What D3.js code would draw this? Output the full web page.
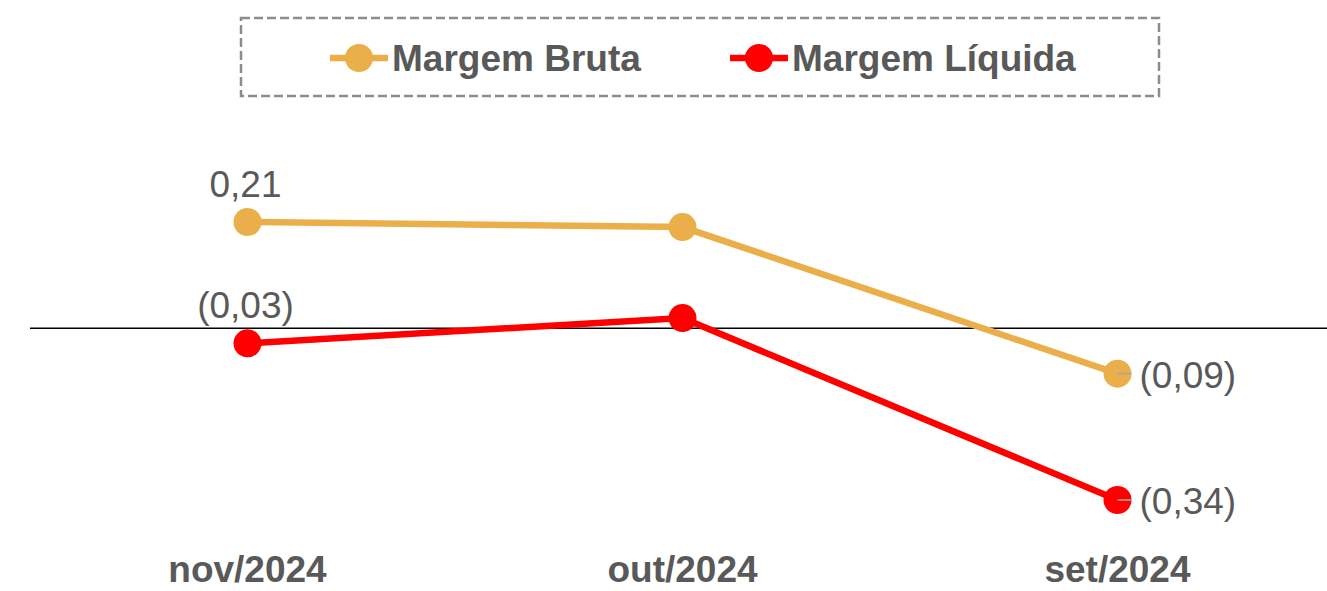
<!DOCTYPE html>
<html>
<head>
<meta charset="utf-8">
<script src="https://cdn.jsdelivr.net/npm/d3@7"></script>
<style>
  body { margin: 0; background: #fff; }
  svg { display: block; font-family: "Liberation Sans", Arial, sans-serif; }
</style>
</head>
<body>
<div id="chart"></div>
<script>
// Data
const categories = ["nov/2024", "out/2024", "set/2024"];
const margemBruta = [0.21, 0.20, -0.09];
const margemLiquida = [-0.03, 0.02, -0.34];
// which points carry a value label
const labelled = [true, false, true];

const series = [
  { name: "Margem Bruta", values: margemBruta, color: "#EAAF4A" },
  { name: "Margem Líquida", values: margemLiquida, color: "#FF0000" },
];

const width = 1327;
const height = 591;
const textColor = "#595959";
const fontSize = 37;

const fmt = (v) => {
  const s = Math.abs(v).toFixed(2).replace(".", ",");
  return v < 0 ? `(${s})` : s;
};

const svg = d3
  .select("#chart")
  .append("svg")
  .attr("width", width)
  .attr("height", height);

const x = d3.scalePoint().domain(categories).range([30, 1335]).padding(0.5);
const y = d3.scaleLinear().domain([-0.34, 0.21]).range([500, 222]);

// zero line
svg
  .append("line")
  .attr("x1", 30)
  .attr("x2", width)
  .attr("y1", y(0))
  .attr("y2", y(0))
  .attr("stroke", "#000")
  .attr("stroke-width", 1.5);

// category labels
svg
  .append("g")
  .selectAll("text")
  .data(categories)
  .join("text")
  .attr("x", (d) => x(d))
  .attr("y", 582)
  .attr("text-anchor", "middle")
  .attr("font-size", fontSize)
  .attr("font-weight", "bold")
  .attr("fill", textColor)
  .text((d) => d);

const line = d3
  .line()
  .x((d, i) => x(categories[i]))
  .y((d) => y(d));

series.forEach((s) => {
  const g = svg.append("g");
  g.append("path")
    .attr("d", line(s.values))
    .attr("fill", "none")
    .attr("stroke", s.color)
    .attr("stroke-width", 6.5);
  g.selectAll("circle")
    .data(s.values)
    .join("circle")
    .attr("cx", (d, i) => x(categories[i]))
    .attr("cy", (d) => y(d))
    .attr("r", 14)
    .attr("fill", s.color);

  s.values.forEach((v, i) => {
    if (!labelled[i]) return;
    const cx = x(categories[i]);
    const cy = y(v);
    if (i === 0) {
      g.append("text")
        .attr("x", cx - 2)
        .attr("y", cy - 25)
        .attr("text-anchor", "middle")
        .attr("font-size", fontSize)
        .attr("fill", textColor)
        .text(fmt(v));
    } else {
      g.append("line")
        .attr("x1", cx)
        .attr("x2", cx + 14)
        .attr("y1", cy)
        .attr("y2", cy)
        .attr("stroke", "#A6A6A6")
        .attr("stroke-width", 1.5);
      g.append("text")
        .attr("x", cx + 22)
        .attr("y", cy + 14)
        .attr("font-size", fontSize)
        .attr("fill", textColor)
        .text(fmt(v));
    }
  });
});

// legend
const legend = svg.append("g");
legend
  .append("rect")
  .attr("x", 241)
  .attr("y", 18)
  .attr("width", 918)
  .attr("height", 78)
  .attr("fill", "none")
  .attr("stroke", "#8C8C8C")
  .attr("stroke-width", 2.5)
  .attr("stroke-dasharray", "9,4");

const legendX = [330, 730];
series.forEach((s, i) => {
  const lg = legend.append("g").attr("transform", `translate(${legendX[i]},58)`);
  lg.append("line")
    .attr("x1", 0)
    .attr("x2", 58)
    .attr("stroke", s.color)
    .attr("stroke-width", 6.5);
  lg.append("circle").attr("cx", 29).attr("r", 14).attr("fill", s.color);
  lg.append("text")
    .attr("x", 62)
    .attr("y", 13)
    .attr("font-size", fontSize)
    .attr("font-weight", "bold")
    .attr("fill", textColor)
    .text(s.name);
});
</script>
</body>
</html>
